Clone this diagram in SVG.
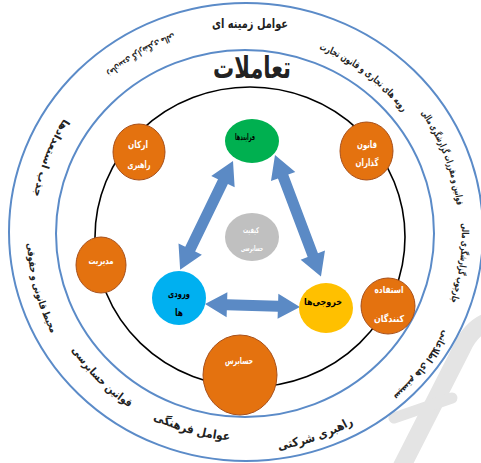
<svg xmlns="http://www.w3.org/2000/svg" width="481" height="463" viewBox="0 0 481 463">
<style>
.ring{fill:none;stroke:#5B8BC8;stroke-width:2}
.orb{fill:#E4720F;stroke:#A8501A;stroke-width:1}
.rt{font-family:"DejaVu Sans",sans-serif;font-weight:bold;fill:#222}
.wl{font-family:"DejaVu Sans",sans-serif;font-weight:bold;fill:#fff;text-anchor:middle}
.bl{font-family:"DejaVu Sans",sans-serif;font-weight:bold;fill:#000;text-anchor:middle}
.arr{fill:#5B8AC5}
</style>
<defs>
<path id="pa" d="M287.2,39.3 A198,198 0 0 1 420.8,140.0"/>
<path id="pb" d="M395.9,83.1 A213,213 0 0 1 458.7,244.1"/>
<path id="pc" d="M457.3,188.1 A216,216 0 0 1 436.7,334.4"/>
<path id="pd" d="M456.4,297.3 A220,220 0 0 1 365.8,417.5"/>
<path id="pe" d="M242.2,452.0 A219,219 0 0 0 383.8,403.2"/>
<path id="pf" d="M125.2,402.3 A208,208 0 0 0 262.3,440.4"/>
<path id="pg" d="M55.7,321.7 A210,210 0 0 0 157.3,423.3"/>
<path id="ph" d="M30.3,195.0 A219,219 0 0 0 78.2,373.8"/>
<path id="pi" d="M83.7,91.9 A215,215 0 0 0 31.0,229.2"/>
<path id="pj" d="M207.4,24.5 A212,212 0 0 0 82.4,98.1"/>
</defs>
<rect width="481" height="463" fill="#fff"/>
<g id="watermark" fill="none" stroke="#E4E4E4" stroke-linecap="round">
<path d="M400,470 L462,348 Q472,326 492,320" stroke-width="18"/>
<path d="M394,418 L452,398" stroke-width="11"/>
</g>
<g id="rings">
<ellipse class="ring" cx="246" cy="232" rx="237" ry="229"/>
<ellipse class="ring" cx="245" cy="233.5" rx="189" ry="183.5"/>
<ellipse cx="250" cy="237" rx="155" ry="150" fill="none" stroke="#000" stroke-width="1.6"/>
</g>
<g id="labels">
<text class="rt" x="250" y="28" font-size="13" text-anchor="middle" fill="#333" textLength="76" lengthAdjust="spacingAndGlyphs">عوامل زمینه ای</text>
<text class="rt" x="252" y="78" font-size="30" text-anchor="middle" fill="#000" textLength="78" lengthAdjust="spacingAndGlyphs">تعاملات</text>
<text class="rt" font-size="10"><textPath href="#pa" startOffset="50%" text-anchor="middle" textLength="106" lengthAdjust="spacingAndGlyphs">رویه های تجاری و قانون تجارت</textPath></text>
<text class="rt" font-size="9.5"><textPath href="#pb" startOffset="50%" text-anchor="middle" textLength="100" lengthAdjust="spacingAndGlyphs">قوانین و مقررات گزارشگری مالی</textPath></text>
<text class="rt" font-size="9.5"><textPath href="#pc" startOffset="50%" text-anchor="middle" textLength="80" lengthAdjust="spacingAndGlyphs">چارچوب گزارشگری مالی</textPath></text>
<text class="rt" font-size="10"><textPath href="#pd" startOffset="50%" text-anchor="middle" textLength="84" lengthAdjust="spacingAndGlyphs">سیستم های اطلاعاتی</textPath></text>
<text class="rt" font-size="12"><textPath href="#pe" startOffset="50%" text-anchor="middle" textLength="80" lengthAdjust="spacingAndGlyphs">راهبری شرکتی</textPath></text>
<text class="rt" font-size="12"><textPath href="#pf" startOffset="50%" text-anchor="middle" textLength="80" lengthAdjust="spacingAndGlyphs">عوامل فرهنگی</textPath></text>
<text class="rt" font-size="11"><textPath href="#pg" startOffset="50%" text-anchor="middle" textLength="82" lengthAdjust="spacingAndGlyphs">قوانین حسابرسی</textPath></text>
<text class="rt" font-size="10"><textPath href="#ph" startOffset="50%" text-anchor="middle" textLength="94" lengthAdjust="spacingAndGlyphs">محیط قانونی و حقوقی</textPath></text>
<text class="rt" font-size="10.5"><textPath href="#pi" startOffset="50%" text-anchor="middle" textLength="84" lengthAdjust="spacingAndGlyphs">جذب استعدادها</textPath></text>
<text class="rt" font-size="9"><textPath href="#pj" startOffset="50%" text-anchor="middle" textLength="78" lengthAdjust="spacingAndGlyphs">زمان‌بندی گزارشگری مالی</textPath></text>
</g>
<g id="connectors">
<path class="arr" transform="translate(233,161) rotate(115.9)" d="M0,0 L23,-13 L23,-5.5 L98,-5.5 L98,-13 L121,0 L98,13 L98,5.5 L23,5.5 L23,13 Z"/>
<path class="arr" transform="translate(275,155) rotate(69.3)" d="M0,0 L23,-13 L23,-5.5 L107,-5.5 L107,-13 L130,0 L107,13 L107,5.5 L23,5.5 L23,13 Z"/>
<path class="arr" transform="translate(205,304) rotate(1.8)" d="M0,0 L22,-12.5 L22,-5.5 L73,-5.5 L73,-12.5 L95,0 L73,12.5 L73,5.5 L22,5.5 L22,12.5 Z"/>
</g>
<g id="node-processes">
<ellipse cx="252" cy="141" rx="27" ry="22" fill="#00B050"/>
<text class="bl" x="245" y="140" font-size="9" textLength="20" lengthAdjust="spacingAndGlyphs">فرایندها</text>
</g>
<g id="node-quality">
<ellipse cx="252" cy="237" rx="27" ry="24" fill="#C0C0C0"/>
<text class="wl" x="251" y="233" font-size="8" textLength="16" lengthAdjust="spacingAndGlyphs">کیفیت</text>
<text class="wl" x="252" y="251" font-size="8" textLength="22" lengthAdjust="spacingAndGlyphs">حسابرسی</text>
</g>
<g id="node-inputs">
<ellipse cx="179" cy="298" rx="27" ry="27" fill="#00B0F0"/>
<text class="bl" x="179" y="297" font-size="10" textLength="22" lengthAdjust="spacingAndGlyphs">ورودی</text>
<text class="bl" x="179" y="316" font-size="10" textLength="8" lengthAdjust="spacingAndGlyphs">ها</text>
</g>
<g id="node-outputs">
<ellipse cx="326" cy="308" rx="27" ry="25" fill="#FFC000"/>
<text class="bl" x="323" y="305" font-size="9" textLength="38" lengthAdjust="spacingAndGlyphs">خروجی‌ها</text>
</g>
<g id="node-governance">
<ellipse class="orb" cx="139" cy="152" rx="26" ry="28"/>
<text class="wl" x="138" y="148" font-size="10" textLength="20" lengthAdjust="spacingAndGlyphs">ارکان</text>
<text class="wl" x="139" y="168" font-size="10" textLength="23" lengthAdjust="spacingAndGlyphs">راهبری</text>
</g>
<g id="node-lawmakers">
<ellipse class="orb" cx="366.5" cy="151" rx="26.5" ry="29"/>
<text class="wl" x="367" y="148" font-size="10" textLength="20" lengthAdjust="spacingAndGlyphs">قانون</text>
<text class="wl" x="367" y="166" font-size="10" textLength="23" lengthAdjust="spacingAndGlyphs">گذاران</text>
</g>
<g id="node-management">
<ellipse class="orb" cx="101" cy="265" rx="25" ry="28"/>
<text class="wl" x="101" y="264" font-size="9.5" textLength="25" lengthAdjust="spacingAndGlyphs">مدیریت</text>
</g>
<g id="node-users">
<ellipse class="orb" cx="388" cy="306" rx="27" ry="28"/>
<text class="wl" x="389" y="293" font-size="9.5" textLength="29" lengthAdjust="spacingAndGlyphs">استفاده</text>
<text class="wl" x="389" y="322" font-size="9.5" textLength="30" lengthAdjust="spacingAndGlyphs">کنندگان</text>
</g>
<g id="node-auditor">
<ellipse class="orb" cx="240" cy="375" rx="37" ry="40"/>
<text class="wl" x="239" y="364" font-size="9.5" textLength="28" lengthAdjust="spacingAndGlyphs">حسابرس</text>
</g>
</svg>
